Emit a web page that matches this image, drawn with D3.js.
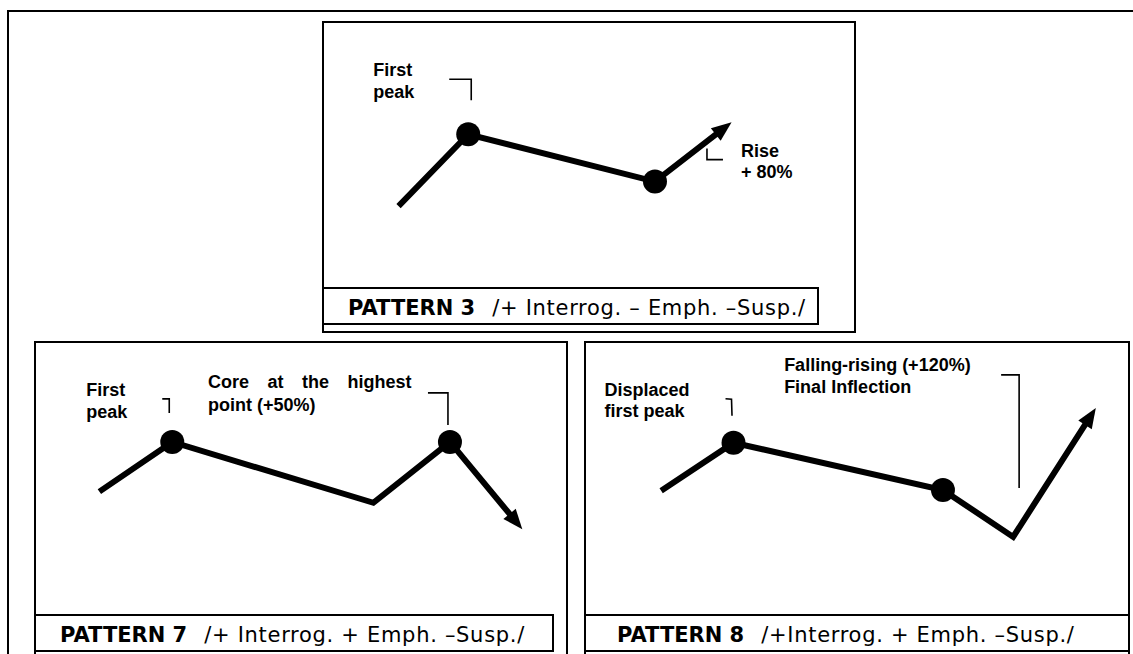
<!DOCTYPE html>
<html>
<head>
<meta charset="utf-8">
<script src="https://cdn.jsdelivr.net/npm/d3@7"></script>
<style>
  body { margin: 0; background: #fff; }
  svg { display: block; }
  .lbl { font-family: "Liberation Sans", Arial, sans-serif; font-weight: bold; font-size: 18px; }
  .cap { font-family: "DejaVu Sans", Verdana, sans-serif; font-size: 21px; }
</style>
</head>
<body>
<div id="chart"></div>
<script>
// Pattern names and descriptions
const names = ["PATTERN 3", "PATTERN 7", "PATTERN 8"];
const descs = ["/+ Interrog. – Emph. –Susp./", "/+ Interrog. + Emph. –Susp./", "/+Interrog. + Emph. –Susp./"];

// Contour turning points: time (% of panel) and pitch level (relative, 0-100)
const time3 = [14.2, 27.3, 62.4, 76.8];
const pitch3 = [30.8, 57.8, 40.0, 62.3];
const dots3 = [1, 2];

const time7 = [12.1, 25.8, 63.6, 78.0, 91.6];
const pitch7 = [45.2, 63.4, 41.1, 63.4, 31.4];
const dots7 = [1, 3];

const time8 = [14.0, 27.3, 65.8, 78.7, 93.9];
const pitch8 = [45.5, 63.1, 45.8, 28.6, 75.8];
const dots8 = [1, 2];

// Annotation texts
const labels3 = [["First", "peak"], ["Rise", "+ 80%"]];
const labels7 = [["First", "peak"], ["Core at the highest", "point (+50%)"]];
const labels8 = [["Displaced", "first peak"], ["Falling-rising (+120%)", "Final Inflection"]];

const width = 1133, height = 654;

const svg = d3.select("#chart")
  .append("svg")
    .attr("width", width)
    .attr("height", height);

// outer frame
svg.append("rect")
  .attr("x", 8).attr("y", 11)
  .attr("width", 1140).attr("height", 660)
  .attr("fill", "none")
  .attr("stroke", "#000")
  .attr("stroke-width", 2);

// panel layout; notes are anchored to a contour point with pixel offsets
const panels = [
  {name: names[0], desc: descs[0], time: time3, pitch: pitch3, dots: dots3,
   x: 323, y: 22, w: 532, h: 310, plotH: 266, capW: 495, capX: 25,
   notes: [
     {at: 1, text: labels3[0], dx: -95, dy: -58, lh: 21.5, path: [[-19, -55], [3, -55], [3, -34]]},
     {at: 2, text: labels3[1], dx: 86, dy: -25, lh: 21.6, path: [[52, -33], [52, -22], [68, -22]]}
   ]},
  {name: names[1], desc: descs[1], time: time7, pitch: pitch7, dots: dots7,
   x: 35, y: 342, w: 532, h: 318, plotH: 273, capW: 518, capX: 25,
   notes: [
     {at: 1, text: labels7[0], dx: -86, dy: -46, lh: 21.7, path: [[-10, -43], [-3, -43], [-3, -29]]},
     {at: 3, text: labels7[1], dx: -242, dy: -54, lh: 23, spacing: 13.5, path: [[-22, -49], [-2, -49], [-2, -17]]}
   ]},
  {name: names[2], desc: descs[2], time: time8, pitch: pitch8, dots: dots8,
   x: 585, y: 342, w: 544, h: 318, plotH: 273, capW: 544, capX: 32,
   notes: [
     {at: 1, text: labels8[0], dx: -129, dy: -47, lh: 21.3, path: [[-8, -44], [-2, -43.5], [-1.5, -27]]},
     {at: 3, text: labels8[1], dx: -229, dy: -165.5, lh: 21.6, path: [[-12, -162], [6, -162], [6, -49]]}
   ]}
];

panels.forEach(p => {
  const g = svg.append("g")
    .attr("transform", `translate(${p.x},${p.y})`);

  // panel box and caption box
  g.append("rect")
    .attr("width", p.w).attr("height", p.h)
    .attr("fill", "#fff")
    .attr("stroke", "#000")
    .attr("stroke-width", 2);
  g.append("rect")
    .attr("y", p.plotH)
    .attr("width", p.capW).attr("height", 36)
    .attr("fill", "#fff")
    .attr("stroke", "#000")
    .attr("stroke-width", 2);

  const cap = g.append("text")
    .attr("class", "cap")
    .attr("x", p.capX)
    .attr("y", p.plotH + 27);
  cap.append("tspan").attr("font-weight", "bold").text(p.name);
  cap.append("tspan").attr("dx", 17).attr("letter-spacing", 0.7).text(p.desc);

  const x = d3.scaleLinear().domain([0, 100]).range([0, p.w]);
  const y = d3.scaleLinear().domain([0, 100]).range([p.plotH, 0]);

  const pts = p.time.map((t, i) => [x(t), y(p.pitch[i])]);
  const n = pts.length;
  const tip = pts[n - 1], prev = pts[n - 2];
  const a = Math.atan2(tip[1] - prev[1], tip[0] - prev[0]);
  const cos = Math.cos(a), sin = Math.sin(a);
  const shaft = pts.slice(0, n - 1).concat([[tip[0] - 10 * cos, tip[1] - 10 * sin]]);

  // contour line
  g.append("path")
    .attr("d", d3.line()(shaft))
    .attr("fill", "none")
    .attr("stroke", "#000")
    .attr("stroke-width", 6)
    .attr("stroke-linejoin", "miter");

  // arrow head
  const L = 20, W = 8;
  const bx = tip[0] - L * cos, by = tip[1] - L * sin;
  g.append("path")
    .attr("d", d3.line()([tip, [bx - W * sin, by + W * cos], [bx + W * sin, by - W * cos]]) + "Z")
    .attr("fill", "#000");

  // marked points
  g.selectAll("circle")
    .data(p.dots)
    .enter()
    .append("circle")
      .attr("cx", i => pts[i][0])
      .attr("cy", i => pts[i][1])
      .attr("r", 12)
      .attr("fill", "#000");

  // annotations
  p.notes.forEach(nt => {
    const [px, py] = pts[nt.at];
    g.append("path")
      .attr("d", d3.line()(nt.path.map(d => [px + d[0], py + d[1]])))
      .attr("fill", "none")
      .attr("stroke", "#000")
      .attr("stroke-width", 1.6);
    const t = g.append("text")
      .attr("class", "lbl")
      .attr("x", px + nt.dx)
      .attr("y", py + nt.dy);
    nt.text.forEach((s, k) => {
      t.append("tspan")
        .attr("x", px + nt.dx)
        .attr("y", py + nt.dy + k * nt.lh)
        .attr("word-spacing", k === 0 && nt.spacing ? nt.spacing : null)
        .text(s);
    });
  });
});
</script>
</body>
</html>
